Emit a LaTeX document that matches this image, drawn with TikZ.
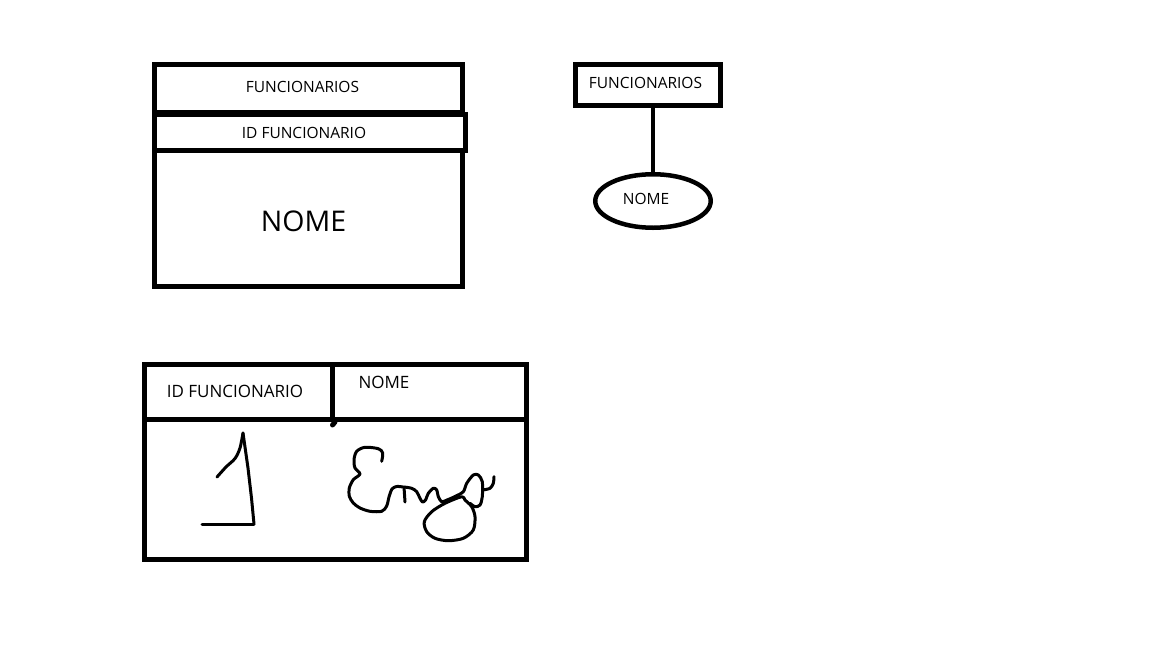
\documentclass[tikz,border=0pt]{standalone}
\usepackage{fontspec}
\setmainfont{Open Sans}
\usepackage{tikz}
\usetikzlibrary{shapes.geometric, positioning}
\tikzset{
    box/.style={draw=black, line width=5pt, rectangle, fill=none, inner sep=0pt, align=center,
                font=\fontsize{15.5}{18}\selectfont},
    headbox/.style={box, line width=5pt, font=\fontsize{17}{20}\selectfont},
    attr/.style={draw=black, ellipse, line width=4.5pt, inner sep=0pt, align=center,
                 font=\fontsize{15.5}{18}\selectfont},
    link/.style={line width=4.5pt, line cap=round},
    lbl/.style={inner sep=0pt, font=\fontsize{15.5}{18}\selectfont},
    headlbl/.style={lbl, font=\fontsize{17}{20}\selectfont},
    biglbl/.style={lbl, font=\fontsize{28.5}{32}\selectfont},
    pen/.style={line width=3pt, line cap=round, line join=round},
}

\begin{document}
\begin{tikzpicture}[x=1pt, y=-1pt]
    \useasboundingbox (0,0) rectangle (1152,648);
    \node[box, minimum width=308pt, minimum height=48pt] (entity) at (308,88) {};
    \node[box, minimum width=311pt, minimum height=36pt] (idrow) at (309.5,132) {};
    \node[box, minimum width=308pt, minimum height=136pt] (nomerow) at (308,218) {};
    \node[lbl] (entitylbl) at (302.5,86.5) {FUNCIONARIOS};
    \node[lbl] (idrowlbl) at (304,133) {ID FUNCIONARIO};
    \node[biglbl] (nomerowlbl) at (303.5,221) {NOME};
    \node[box, minimum width=145pt, minimum height=41pt] (erent) at (647.5,84.75) {};
    \node[lbl] (erentlbl) at (645.5,83) {FUNCIONARIOS};
    \node[attr, minimum width=115.5pt, minimum height=53.5pt] (nomeattr) at (653,201) {};
    \node[lbl] (nomeattrlbl) at (646,198.5) {NOME};
    \draw[link] (nomeattr.north |- erent.south) -- (nomeattr.north);
    \node[headbox, minimum width=188pt, minimum height=55pt] (hid) at (238.5,392) {};
    \node[headbox, minimum width=194pt, minimum height=55pt] (hnome) at (429.5,392) {};
    \node[headlbl] (hidlbl) at (235,391) {ID FUNCIONARIO};
    \node[headlbl] (hnomelbl) at (384,382) {NOME};
    \node[box, minimum width=382pt, minimum height=140pt] (rows) at (335.5,489.5) {};
    \coordinate (tick) at (332.5,425);
    \draw[link, line width=5pt] (hid.south east) -- (tick);
    % valores escritos a mao
    \draw[pen] plot[smooth, tension=0.5] coordinates {(217,477) (226,467) (235,458.5) (240,448) (243,433)};
    \draw[pen] (243,433) -- (245,447) -- (248,468) -- (251.5,498) -- (254,524);
    \draw[pen] (202,524) -- (254,524);
    \draw[pen] plot[smooth, tension=0.5] coordinates {(381.7,461.3) (382.7,453) (378.3,448.7) (365,447.3) (356.7,451.3) (354,459.7) (355,468) (360,474) (353.3,479.7) (349.3,488) (349.3,496.3) (353.3,503) (360,508) (370,511.3) (381.7,511.3) (386.7,506) (389,497) (392,489) (396.7,486.5) (403,487)};
    \draw[pen] (404,487) -- (405,502);
    \draw[pen] plot[smooth, tension=0.5] coordinates {(404,487) (411.7,488.3) (416.7,491.7) (420,498.3) (422.5,502) (425.5,500) (428.3,493.3) (433.3,488.3) (436.7,490) (438.3,496.7) (441.7,501.7) (447,500) (455,496.5) (463.3,491.7) (466.7,483.3) (473.3,475) (478.3,475) (482.3,481.7) (482.3,496.7) (480,505) (475,506.7) (470,503.3)};
    \draw[pen] plot[smooth, tension=0.5] coordinates {(482.5,490) (490,488.3) (493.3,483.3) (494,476.7)};
    \draw[pen] plot[smooth cycle, tension=0.5] coordinates {(461.7,496.7) (445,503.3) (431.7,511.7) (424.3,521.7) (426.7,531.7) (435,538.3) (448.3,540.7) (463.3,538.3) (473.3,530) (475,516.7) (471.7,506.7) (465,500)};
\end{tikzpicture}
\end{document}
